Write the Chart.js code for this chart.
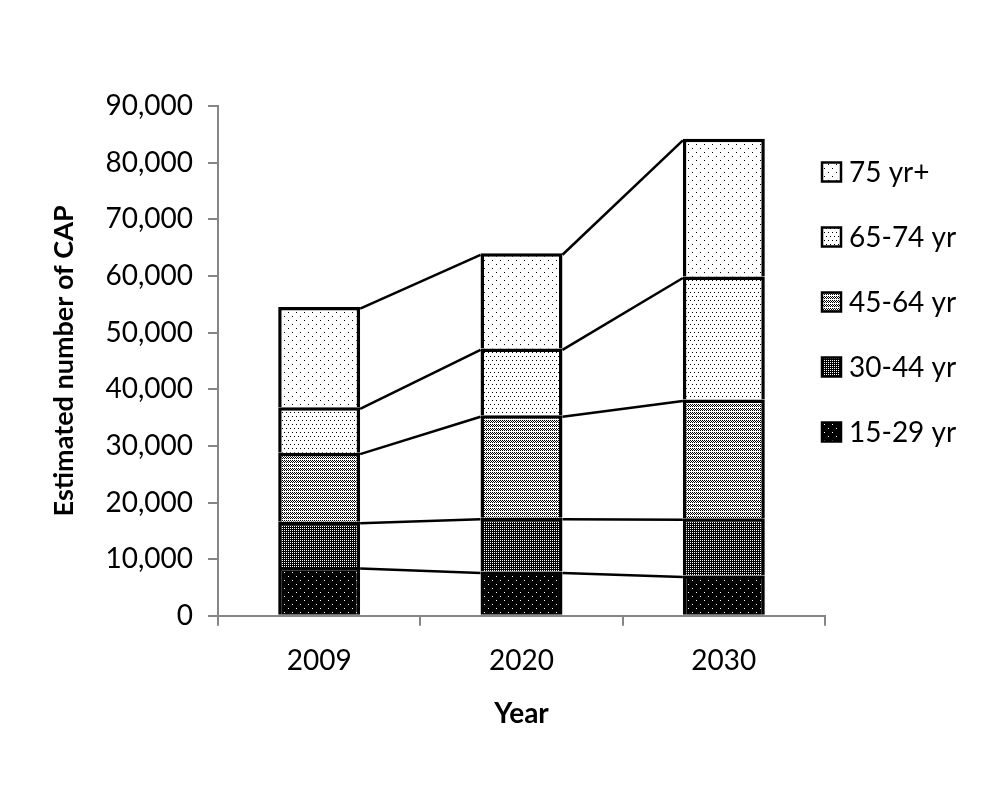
<!DOCTYPE html>
<html>
<head>
<meta charset="utf-8">
<script src="https://cdn.jsdelivr.net/npm/chart.js@4"></script>
<style>
  body { margin: 0; background: #fff; }
</style>
</head>
<body>
<canvas id="c" width="1004" height="797"></canvas>
<script>
// data
const years = ['2009', '2020', '2030'];
const ageGroups = ['15-29 yr', '30-44 yr', '45-64 yr', '65-74 yr', '75 yr+'];
const age15to29 = [8600, 7800, 7100];
const age30to44 = [8000, 9500, 10100];
const age45to64 = [12200, 18100, 21000];
const age65to74 = [8000, 11800, 21700];
const age75plus = [17700, 16800, 24300];
const yMax = 90000;
const yStep = 10000;

const FONT = 'Lato, "Open Sans", sans-serif';
const canvas = document.getElementById('c');
const ctx = canvas.getContext('2d');

// small tiled fills like the office "dotted" patterns
function makePattern(w, h, bg, fg, dots) {
  const tile = document.createElement('canvas');
  tile.width = w;
  tile.height = h;
  const g = tile.getContext('2d');
  g.fillStyle = bg;
  g.fillRect(0, 0, w, h);
  g.fillStyle = fg;
  dots.forEach(([x, y]) => g.fillRect(x, y, 1, 1));
  return ctx.createPattern(tile, 'repeat');
}

const fills = [
  makePattern(8, 8, '#000', '#fff', [[0, 0], [4, 4]]),                       // 15-29
  makePattern(2, 2, '#000', '#fff', [[0, 0]]),                                // 30-44
  makePattern(4, 4, '#fff', '#000', [[0, 0], [2, 0], [1, 1], [3, 1], [0, 2], [2, 2]]), // 45-64
  makePattern(4, 8, '#fff', '#000', [[0, 0], [2, 4]]),                        // 65-74
  makePattern(8, 8, '#fff', '#000', [[0, 0], [4, 4]])                         // 75+
];

const series = [age15to29, age30to44, age45to64, age65to74, age75plus];

const datasets = series.map((vals, i) => ({
  label: ageGroups[i],
  data: vals,
  backgroundColor: fills[i],
  borderColor: '#000',
  borderWidth: 3.5,
  barPercentage: 0.405,
  categoryPercentage: 1.0
}));

// lines joining the top of each segment to the same segment in the next bar
const seriesLines = {
  id: 'seriesLines',
  afterDatasetsDraw(chart) {
    const c = chart.ctx;
    c.save();
    c.strokeStyle = '#000';
    c.lineWidth = 2.5;
    chart.data.datasets.forEach((ds, d) => {
      const meta = chart.getDatasetMeta(d);
      for (let i = 0; i < meta.data.length - 1; i++) {
        const a = meta.data[i], b = meta.data[i + 1];
        c.beginPath();
        c.moveTo(a.x + a.width / 2, a.y + 1.5);
        c.lineTo(b.x - b.width / 2, b.y + 1.5);
        c.stroke();
      }
    });
    c.restore();
  }
};

// legend drawn to the right, top item = last series
const sideLegend = {
  id: 'sideLegend',
  afterDraw(chart) {
    const c = chart.ctx;
    const area = chart.chartArea;
    const x0 = area.right - 3;
    const y0 = area.top + 66;
    const step = 65;
    const box = 19;
    c.save();
    c.font = '28px ' + FONT;
    c.textBaseline = 'middle';
    c.textAlign = 'left';
    const n = chart.data.datasets.length;
    for (let k = 0; k < n; k++) {
      const ds = chart.data.datasets[n - 1 - k];
      const y = y0 + k * step;
      c.fillStyle = ds.backgroundColor;
      c.fillRect(x0, y - box / 2, box, box);
      c.strokeStyle = '#000';
      c.lineWidth = 2.5;
      c.strokeRect(x0, y - box / 2, box, box);
      c.fillStyle = '#000';
      c.fillText(ds.label, x0 + box + 8, y + 1);
    }
    c.restore();
  }
};

new Chart(ctx, {
  type: 'bar',
  data: { labels: years, datasets: datasets },
  options: {
    responsive: false,
    animation: false,
    devicePixelRatio: 1,
    layout: { padding: { top: 106, left: 30, right: 179, bottom: 56 } },
    plugins: {
      legend: { display: false },
      tooltip: { enabled: false }
    },
    scales: {
      x: {
        stacked: true,
        border: { color: '#868686', width: 2 },
        grid: { offset: true, drawOnChartArea: false, drawTicks: true, tickLength: 10, color: '#868686', lineWidth: 2 },
        ticks: { color: '#000', font: { family: FONT, size: 28 }, padding: 18 },
        title: {
          display: true,
          text: 'Year',
          color: '#000',
          font: { family: FONT, size: 28, weight: 'bold' },
          padding: { top: 2, bottom: 10 }
        }
      },
      y: {
        stacked: true,
        min: 0,
        max: yMax,
        afterFit: s => { s.width = 188; },
        border: { color: '#868686', width: 2 },
        grid: { drawOnChartArea: false, drawTicks: true, tickLength: 10, color: '#868686', lineWidth: 2 },
        ticks: {
          stepSize: yStep,
          color: '#000',
          font: { family: FONT, size: 28 },
          padding: 15,
          callback: v => v.toLocaleString('en-US')
        },
        title: {
          display: true,
          text: 'Estimated number of CAP',
          color: '#000',
          font: { family: FONT, size: 27, weight: 'bold' },
          padding: { top: 18, bottom: 0 }
        }
      }
    }
  },
  plugins: [seriesLines, sideLegend]
});
</script>
</body>
</html>
